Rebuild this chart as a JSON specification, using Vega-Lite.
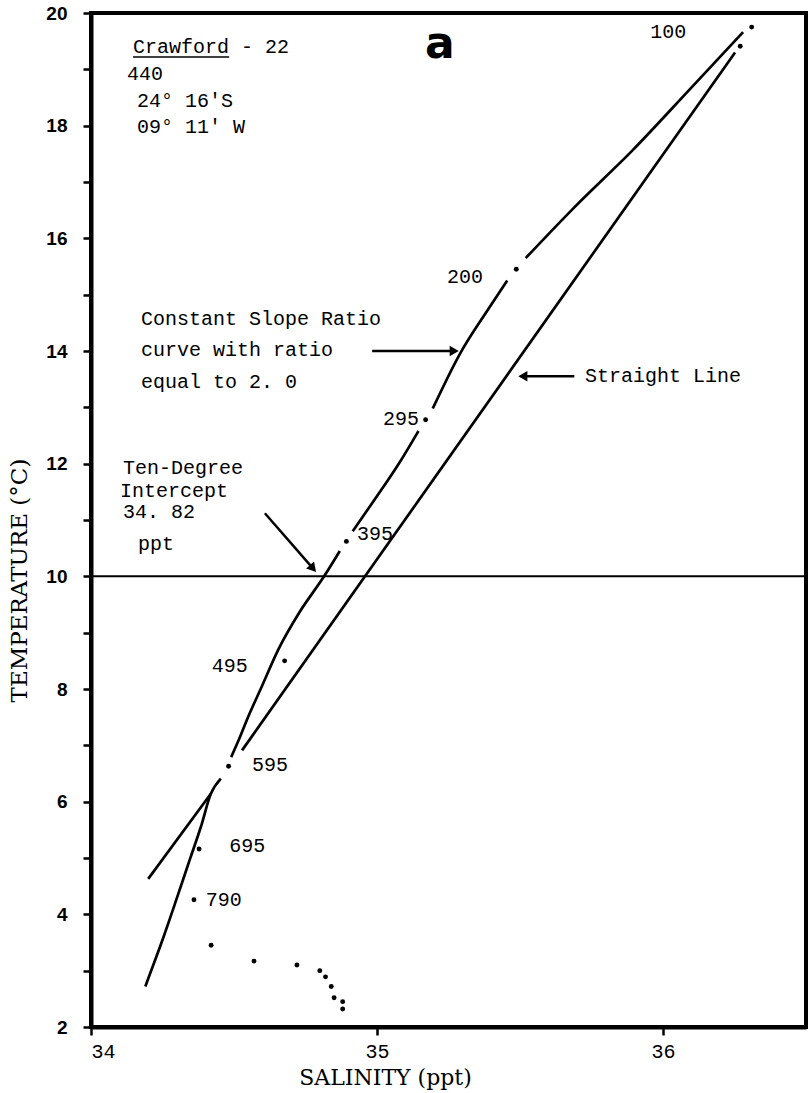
{
  "$schema": "https://vega.github.io/schema/vega-lite/v6.json",
  "width": 715,
  "height": 1014,
  "autosize": {"type": "none"},
  "padding": {"left": 91, "top": 13, "right": 3, "bottom": 66},
  "background": "white",
  "config": {
    "view": {"stroke": "black", "strokeWidth": 4},
    "axis": {"domainColor": "black", "domainWidth": 4, "tickColor": "black", "tickWidth": 2.5, "tickSize": 8, "grid": false, "labelColor": "black", "titleColor": "black"}
  },
  "datasets": {
    "lines": [
      {"seg": "r1", "ord": 1, "sal": 34.19, "temp": 2.72},
      {"seg": "r1", "ord": 2, "sal": 34.206, "temp": 2.94},
      {"seg": "r1", "ord": 3, "sal": 34.253, "temp": 3.59},
      {"seg": "r1", "ord": 4, "sal": 34.301, "temp": 4.3},
      {"seg": "r1", "ord": 5, "sal": 34.348, "temp": 5.01},
      {"seg": "r1", "ord": 6, "sal": 34.384, "temp": 5.55},
      {"seg": "r1", "ord": 7, "sal": 34.419, "temp": 6.14},
      {"seg": "r1", "ord": 8, "sal": 34.454, "temp": 6.41},
      {"seg": "r2", "ord": 9, "sal": 34.49, "temp": 6.79},
      {"seg": "r2", "ord": 10, "sal": 34.516, "temp": 7.09},
      {"seg": "r2", "ord": 11, "sal": 34.549, "temp": 7.5},
      {"seg": "r2", "ord": 12, "sal": 34.596, "temp": 8.03},
      {"seg": "r2", "ord": 13, "sal": 34.654, "temp": 8.69},
      {"seg": "r2", "ord": 14, "sal": 34.73, "temp": 9.37},
      {"seg": "r2", "ord": 15, "sal": 34.815, "temp": 10.0},
      {"seg": "r2", "ord": 16, "sal": 34.87, "temp": 10.45},
      {"seg": "r3", "ord": 17, "sal": 34.915, "temp": 10.8},
      {"seg": "r3", "ord": 18, "sal": 34.99, "temp": 11.35},
      {"seg": "r3", "ord": 19, "sal": 35.08, "temp": 12.03},
      {"seg": "r3", "ord": 20, "sal": 35.145, "temp": 12.58},
      {"seg": "r4", "ord": 21, "sal": 35.195, "temp": 12.98},
      {"seg": "r4", "ord": 22, "sal": 35.29, "temp": 13.95},
      {"seg": "r4", "ord": 23, "sal": 35.39, "temp": 14.75},
      {"seg": "r4", "ord": 24, "sal": 35.455, "temp": 15.25},
      {"seg": "r5", "ord": 25, "sal": 35.52, "temp": 15.65},
      {"seg": "r5", "ord": 26, "sal": 35.69, "temp": 16.55},
      {"seg": "r5", "ord": 27, "sal": 35.895, "temp": 17.57},
      {"seg": "r5", "ord": 28, "sal": 36.1, "temp": 18.68},
      {"seg": "r5", "ord": 29, "sal": 36.28, "temp": 19.66},
      {"seg": "s1", "ord": 1, "sal": 34.2, "temp": 4.63},
      {"seg": "s1", "ord": 2, "sal": 34.419, "temp": 6.14},
      {"seg": "s2", "ord": 3, "sal": 34.528, "temp": 6.91},
      {"seg": "s2", "ord": 4, "sal": 36.252, "temp": 19.3}
    ],
    "dots": [
      {"depth": "100", "sal": 36.31, "temp": 19.75},
      {"depth": "", "sal": 36.27, "temp": 19.41},
      {"depth": "200", "sal": 35.487, "temp": 15.45},
      {"depth": "295", "sal": 35.17, "temp": 12.78},
      {"depth": "395", "sal": 34.893, "temp": 10.62},
      {"depth": "495", "sal": 34.677, "temp": 8.5},
      {"depth": "595", "sal": 34.481, "temp": 6.63},
      {"depth": "695", "sal": 34.378, "temp": 5.16},
      {"depth": "790", "sal": 34.36, "temp": 4.26},
      {"depth": "", "sal": 34.42, "temp": 3.45},
      {"depth": "", "sal": 34.57, "temp": 3.17},
      {"depth": "", "sal": 34.72, "temp": 3.1},
      {"depth": "", "sal": 34.8, "temp": 3.0},
      {"depth": "", "sal": 34.82, "temp": 2.89},
      {"depth": "", "sal": 34.84, "temp": 2.72},
      {"depth": "", "sal": 34.85, "temp": 2.52},
      {"depth": "", "sal": 34.88, "temp": 2.45},
      {"depth": "", "sal": 34.88, "temp": 2.32}
    ],
    "notes": [
      {"txt": "Crawford - 22", "sal": 34.147, "temp": 19.29},
      {"txt": "440", "sal": 34.126, "temp": 18.81},
      {"txt": "24° 16′S", "sal": 34.161, "temp": 18.33},
      {"txt": "09° 11′ W", "sal": 34.161, "temp": 17.87},
      {"txt": "100", "sal": 35.955, "temp": 19.56},
      {"txt": "200", "sal": 35.245, "temp": 15.2},
      {"txt": "Constant Slope Ratio", "sal": 34.175, "temp": 14.46},
      {"txt": "curve with ratio", "sal": 34.175, "temp": 13.91},
      {"txt": "equal to 2. 0", "sal": 34.175, "temp": 13.34},
      {"txt": "Straight Line", "sal": 35.727, "temp": 13.45},
      {"txt": "295", "sal": 35.021, "temp": 12.68},
      {"txt": "Ten-Degree", "sal": 34.112, "temp": 11.81},
      {"txt": "Intercept", "sal": 34.101, "temp": 11.4},
      {"txt": "34. 82", "sal": 34.112, "temp": 11.03},
      {"txt": "ppt", "sal": 34.164, "temp": 10.47},
      {"txt": "395", "sal": 34.93, "temp": 10.64},
      {"txt": "495", "sal": 34.422, "temp": 8.3},
      {"txt": "595", "sal": 34.563, "temp": 6.55},
      {"txt": "695", "sal": 34.483, "temp": 5.1},
      {"txt": "790", "sal": 34.401, "temp": 4.14}
    ],
    "arrows": [
      {"name": "ratio", "sal": 34.983, "temp": 14.0, "sal2": 35.27, "temp2": 14.0},
      {"name": "straight", "sal": 35.69, "temp": 13.55, "sal2": 35.51, "temp2": 13.55},
      {"name": "intercept", "sal": 34.608, "temp": 11.12, "sal2": 34.773, "temp2": 10.16}
    ]
  },
  "encoding": {
    "x": {"field": "sal", "type": "quantitative", "scale": {"domain": [34, 36.5], "nice": false, "zero": false},
      "axis": {"values": [34, 34.5, 35, 35.5, 36], "format": "d", "labelExpr": "datum.value % 1 == 0 ? datum.label : ''", "labelFont": "Liberation Mono", "labelFontSize": 20, "labelPadding": 6, "title": "SALINITY (ppt)", "titleFont": "DejaVu Serif", "titleFontSize": 22, "titleFontWeight": "normal", "titleX": 294, "titlePadding": 6}},
    "y": {"field": "temp", "type": "quantitative", "scale": {"domain": [2, 20], "nice": false, "zero": false},
      "axis": {"values": [2, 3, 4, 5, 6, 7, 8, 9, 10, 11, 12, 13, 14, 15, 16, 17, 18, 19, 20], "labelExpr": "datum.value % 2 == 0 ? datum.label : ''", "labelFont": "Liberation Sans", "labelFontWeight": "bold", "labelFontSize": 19, "labelPadding": 16, "title": "TEMPERATURE (°C)", "titleFont": "DejaVu Serif", "titleFontSize": 23, "titleFontWeight": "normal", "titleX": -60, "titleY": 567}}
  },
  "layer": [
    {"data": {"values": [{"t": 10}]}, "mark": {"type": "rule", "color": "black", "strokeWidth": 2}, "encoding": {"x": null, "y": {"field": "t", "type": "quantitative"}}},
    {"data": {"name": "lines"}, "mark": {"type": "line", "color": "black", "strokeWidth": 2.7, "interpolate": "monotone"}, "encoding": {"detail": {"field": "seg"}, "order": {"field": "ord", "type": "quantitative"}}},
    {"data": {"name": "dots"}, "mark": {"type": "circle", "color": "black", "opacity": 1, "size": 24}},
    {"data": {"name": "arrows"}, "mark": {"type": "rule", "color": "black", "strokeWidth": 2.5}, "encoding": {"x2": {"field": "sal2"}, "y2": {"field": "temp2"}}},
    {"data": {"name": "arrows"}, "transform": [{"filter": "datum.name == 'ratio'"}], "mark": {"type": "point", "shape": "triangle-right", "filled": true, "color": "black", "opacity": 1, "size": 110}, "encoding": {"x": {"field": "sal2", "type": "quantitative"}, "y": {"field": "temp2", "type": "quantitative"}}},
    {"data": {"name": "arrows"}, "transform": [{"filter": "datum.name == 'straight'"}], "mark": {"type": "point", "shape": "triangle-left", "filled": true, "color": "black", "opacity": 1, "size": 110}, "encoding": {"x": {"field": "sal2", "type": "quantitative"}, "y": {"field": "temp2", "type": "quantitative"}}},
    {"data": {"name": "arrows"}, "transform": [{"filter": "datum.name == 'intercept'"}], "mark": {"type": "point", "shape": "triangle", "angle": 139, "filled": true, "color": "black", "opacity": 1, "size": 110}, "encoding": {"x": {"field": "sal2", "type": "quantitative"}, "y": {"field": "temp2", "type": "quantitative"}}},
    {"data": {"name": "notes"}, "mark": {"type": "text", "align": "left", "baseline": "alphabetic", "font": "Liberation Mono", "fontSize": 20, "color": "black"}, "encoding": {"text": {"field": "txt"}}},
    {"data": {"values": [{"sal": 34.147, "sal2": 34.483, "temp": 19.22}]}, "mark": {"type": "rule", "color": "black", "strokeWidth": 1.5}, "encoding": {"x2": {"field": "sal2"}}},
    {"data": {"values": [{"txt": "a", "sal": 35.22, "temp": 19.2}]}, "mark": {"type": "text", "align": "center", "baseline": "alphabetic", "font": "DejaVu Sans", "fontWeight": "bold", "fontSize": 44, "color": "black"}, "encoding": {"text": {"field": "txt"}}}
  ]
}
